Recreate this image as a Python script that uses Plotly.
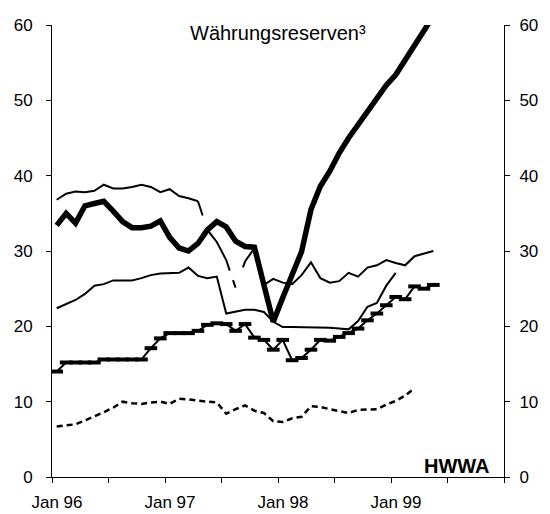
import plotly.graph_objects as go

# month index: 0 = Jan 96
tick_vals = [-0.5, 5.5, 11.5, 17.5, 23.5, 29.5, 35.5, 41.5, 47.5]
tick_text = ["Jan 96", "", "Jan 97", "", "Jan 98", "", "Jan 99", "", ""]

korea = [33.4, 35.0, 33.7, 36.0, 36.3, 36.6, 35.3, 33.9, 33.1, 33.1, 33.3, 34.0,
         31.8, 30.4, 30.0, 31.0, 32.8, 33.9, 33.2, 31.3, 30.6, 30.5, 25.5, 20.6,
         23.8, 26.8, 29.9, 35.5, 38.6, 40.6, 43.0, 45.0, 46.8, 48.6, 50.2, 52.0,
         53.4, 55.3, 57.3, 59.3, 61.2]

thailand = [36.8, 37.6, 37.9, 37.8, 38.0, 38.8, 38.3, 38.3, 38.5, 38.8, 38.5, 37.8,
            38.2, 37.3, 37.0, 36.6, 32.8, 31.2, 28.8, 25.1, 28.6, 30.4, 25.5, 26.3,
            25.8, 25.6, 26.8, 28.5, 26.4, 25.8, 26.0, 27.1, 26.6, 27.8, 28.1, 28.8,
            28.4, 28.1, 29.3, 29.6, 30.0]

malaysia = [22.4, 23.0, 23.5, 24.3, 25.4, 25.6, 26.1, 26.1, 26.1, 26.4, 26.8, 27.0,
            27.0, 27.1, 27.8, 26.7, 26.4, 26.6, 21.7, 22.0, 22.2, 22.2, 21.9, 20.6,
            19.9, 19.9, 19.9, 19.8, 19.8, 19.8, 19.7, 19.6, 20.7, 22.6, 23.1, 25.4,
            27.1]

indonesia = [14.0, 15.2, 15.2, 15.2, 15.2, 15.6, 15.6, 15.6, 15.6, 15.6, 17.1, 18.4,
             19.1, 19.1, 19.1, 19.4, 20.2, 20.4, 20.3, 19.4, 20.3, 18.5, 18.2, 16.9,
             18.2, 15.5, 15.8, 16.9, 18.2, 18.1, 18.6, 19.1, 19.7, 20.8, 21.7, 22.8,
             23.9, 23.6, 25.3, 25.0, 25.5]

philippines = [6.7, 6.9, 7.0, 7.5, 8.0, 8.6, 9.2, 10.0, 9.8, 9.7, 9.9, 10.0,
               9.7, 10.4, 10.3, 10.1, 10.0, 9.9, 8.4, 9.0, 9.5, 8.8, 8.5, 7.4,
               7.3, 7.8, 8.0, 9.4, 9.3, 9.0, 8.7, 8.5, 8.9, 9.0, 9.0, 9.6,
               10.1, 10.8, 11.8]

def months(vals, start=0):
    return list(range(start, start + len(vals)))

FONT = "Liberation Sans, Arial, sans-serif"
fig = go.Figure()

# Philippines (short dashes)
fig.add_trace(go.Scatter(x=months(philippines), y=philippines, mode="lines",
                         line=dict(color="black", width=2.5, dash="6px,4px")))
# Indonesia (line with dash markers)
fig.add_trace(go.Scatter(x=months(indonesia), y=indonesia, mode="lines+markers",
                         line=dict(color="black", width=2),
                         marker=dict(symbol="line-ew", size=9,
                                     line=dict(width=4, color="black"))))
# Malaysia
fig.add_trace(go.Scatter(x=months(malaysia), y=malaysia, mode="lines",
                         line=dict(color="black", width=2)))
# Thailand: solid, dashed section, solid
fig.add_trace(go.Scatter(x=months(thailand[:16]), y=thailand[:16], mode="lines",
                         line=dict(color="black", width=2)))
fig.add_trace(go.Scatter(x=months(thailand[15:23], 15), y=thailand[15:23], mode="lines",
                         line=dict(color="black", width=2,
                                   dash="15px,15px,47px,10px,8px,22px,30px")))
fig.add_trace(go.Scatter(x=months(thailand[22:], 22), y=thailand[22:], mode="lines",
                         line=dict(color="black", width=2)))
# Korea (thick) on the right axis (same scale)
fig.add_trace(go.Scatter(x=months(korea), y=korea, mode="lines", yaxis="y2",
                         line=dict(color="black", width=5.5)))

axis_common = dict(range=[0, 60], dtick=10, tick0=0, showgrid=False, zeroline=False,
                   showline=True, linecolor="black", linewidth=1, ticks="outside",
                   ticklen=5, tickcolor="black", tickwidth=1, automargin=False,
                   tickfont=dict(family=FONT, size=17, color="black"))

fig.update_layout(
    width=550, height=514, autosize=False,
    margin=dict(l=52, r=46, t=25, b=37, autoexpand=False),
    paper_bgcolor="white", plot_bgcolor="white",
    showlegend=False,
    xaxis=dict(range=[-0.5, 47.5], tickmode="array", tickvals=tick_vals, ticktext=tick_text,
               showgrid=False, zeroline=False, showline=True, linecolor="black", linewidth=1,
               ticks="outside", ticklen=5, tickcolor="black", tickwidth=1, automargin=False,
               ticklabelshift=5, ticklabelstandoff=5,
               tickfont=dict(family=FONT, size=17, color="black")),
    yaxis=dict(**axis_common, ticklabelstandoff=10),
    yaxis2=dict(**axis_common, overlaying="y", side="right", ticklabelstandoff=6),
    annotations=[
        dict(text="Währungsreserven³", xref="paper", yref="paper", x=0.5, y=0.983,
             xanchor="center", yanchor="middle", showarrow=False,
             font=dict(family=FONT, size=20, color="black")),
        dict(text="<b>HWWA</b>", xref="paper", yref="paper", x=0.973, y=0.024,
             xanchor="right", yanchor="middle", showarrow=False,
             font=dict(family=FONT, size=20, color="black")),
    ],
)

fig.write_html("out.html", config={"displayModeBar": False},
               post_script="document.body.style.margin='0px';")
